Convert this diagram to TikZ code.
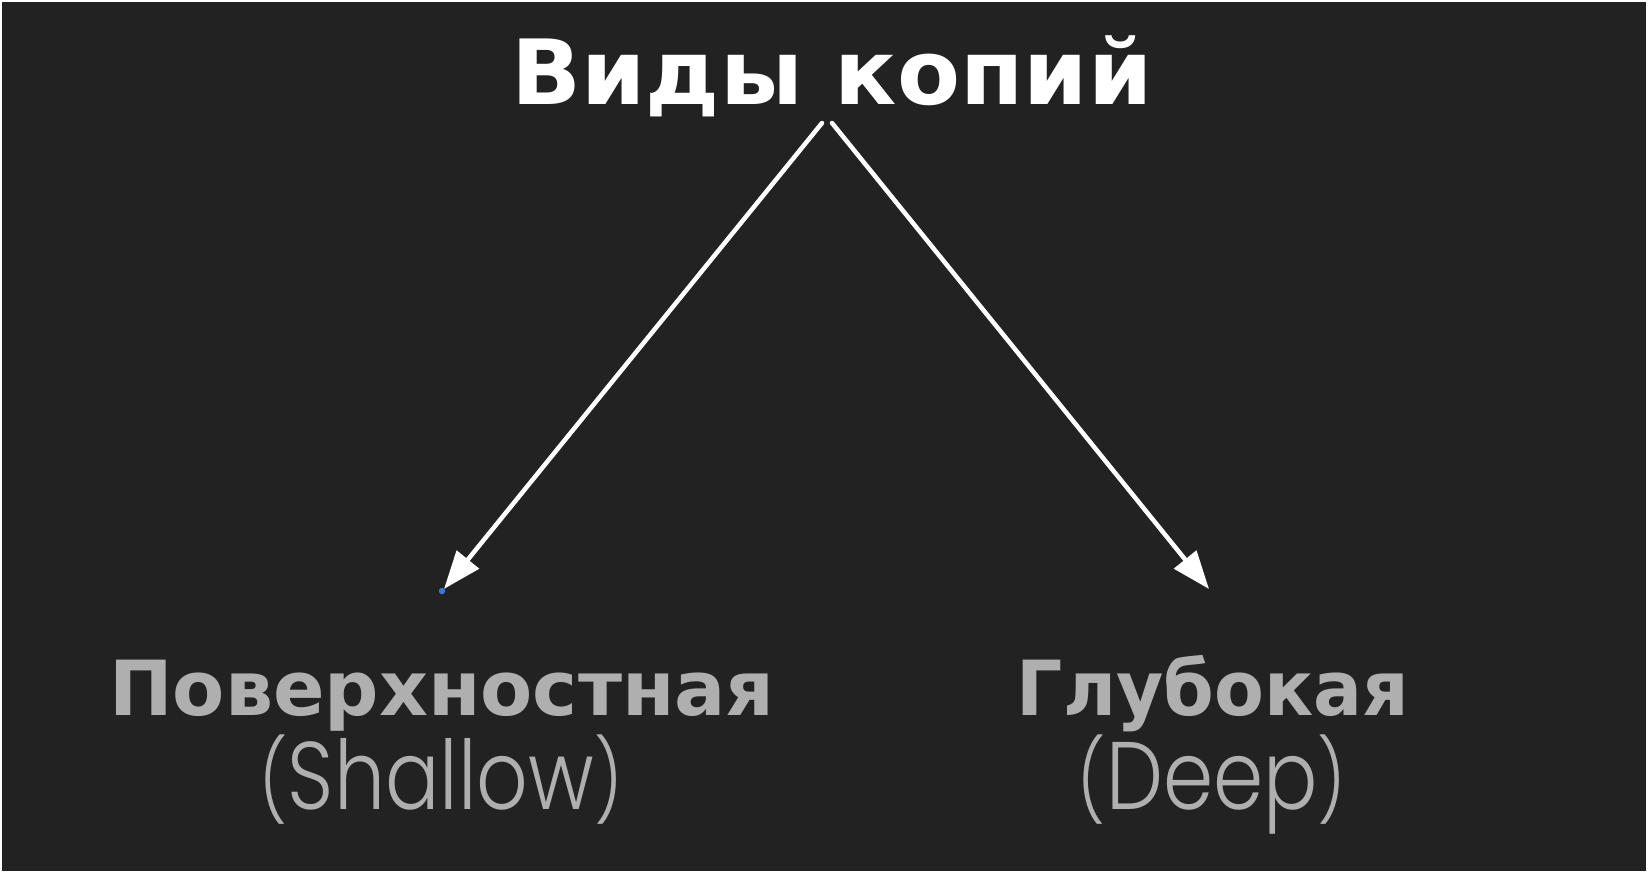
\documentclass[tikz,border=0pt]{standalone}
\usepackage{fontspec}
\usetikzlibrary{arrows.meta}
\newfontfamily\boldfont{DejaVu Sans}
\newfontfamily\lightfont{Poppins}[UprightFont=* Light]
\newcommand\parsize{\fontsize{80}{80}\selectfont}
\definecolor{bg}{HTML}{222222}
\definecolor{lbl}{HTML}{AFAFAF}
\definecolor{dotblue}{HTML}{3A78D8}
\tikzset{
  titletext/.style={anchor=base, inner sep=0pt, text=white, font=\boldfont\bfseries\fontsize{90}{90}\selectfont},
  kindtext/.style={anchor=base, inner sep=0pt, text=lbl, font=\boldfont\bfseries\fontsize{76}{76}\selectfont},
  engtext/.style={anchor=base, inner sep=0pt, text=lbl, font=\lightfont\fontsize{96}{96}\selectfont},
  branch/.style={draw=white, line width=4.5pt, line cap=round, -{Triangle[length=38pt,width=28pt]}}
}
\begin{document}
\begin{tikzpicture}[x=1pt,y=-1pt]
\fill[white] (0,0) rectangle (1648,874);
\fill[bg] (2,2) rectangle (1646,871);
\useasboundingbox (0,0) rectangle (1648,874);
\node[titletext] (title) at (832,105) {\scalebox{1.02}[1]{Виды копий}};
\node[kindtext] (shallowru) at (442,715) {Поверхностная};
\node[engtext] (shallowen) at (441,809) {\scalebox{0.84}[1]{{\parsize(}Shallow{\parsize)}}};
\node[kindtext] (deepru) at (1213,715) {\scalebox{0.955}[1]{Глубокая}};
\node[engtext] (deepen) at (1212,809) {\scalebox{0.84}[1]{{\parsize(}Deep{\parsize)}}};
\coordinate (lstart) at (822,123);
\coordinate (rstart) at (832,123);
\coordinate (ltip) at (444,589);
\coordinate (rtip) at (1209,589);
\draw[branch] (lstart) -- (ltip);
\draw[branch] (rstart) -- (rtip);
\fill[dotblue] (442,591) circle (3.2);
\end{tikzpicture}
\end{document}
